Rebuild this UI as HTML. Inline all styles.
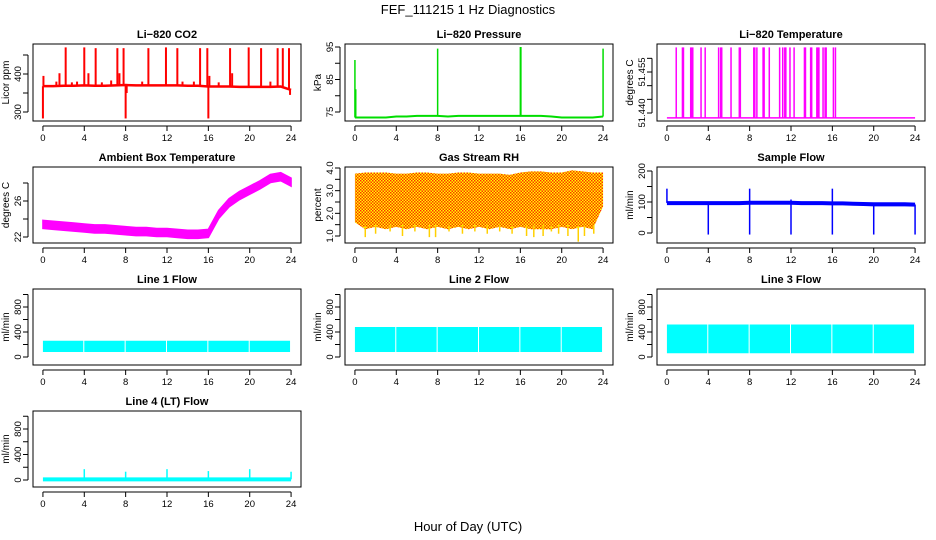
<!DOCTYPE html>
<html><head><meta charset="utf-8">
<style>
body{margin:0;background:#fff;}
svg{display:block;font-family:"Liberation Sans",Arial,sans-serif;}
.t{font-weight:bold;font-size:11px;text-anchor:middle;}
.tk{font-size:9.5px;text-anchor:middle;}
</style></head>
<body>
<svg id="c" width="936" height="540" viewBox="0 0 936 540">
<defs>
<pattern id="rh" width="3" height="3" patternUnits="userSpaceOnUse"><rect width="3" height="3" fill="#ffff00"/><rect width="1.5" height="1.5" fill="#ff3000"/><rect x="1.5" y="1.5" width="1.5" height="1.5" fill="#ff3000"/></pattern>
</defs>
<text x="468" y="14" font-size="13" text-anchor="middle">FEF_111215  1 Hz Diagnostics</text>
<text x="468" y="531" font-size="13" text-anchor="middle">Hour of Day (UTC)</text>
</svg>
<script>
const xTicks=[0,4,8,12,16,20,24];
const hours=[0,1,2,3,4,5,6,7,8,9,10,11,12,13,14,15,16,17,18,19,20,21,22,23,24];
// CO2
const co2Base=[368,368,369,369,370,369,369,370,371,370,370,370,370,370,369,369,367,367,367,366,366,366,366,367,358];
const co2Spikes=[[0,283],[0.05,395],[1.3,380],[1.6,402],[2.2,470],[2.8,378],[3.3,380],[4.0,470],[4.4,402],[5.1,468],[5.7,378],[6.6,383],[7.2,468],[7.4,402],[7.8,468],[8.0,283],[8.1,350],[9.6,380],[10.2,468],[11.9,470],[13.0,468],[13.5,380],[14.6,380],[15.2,468],[15.9,468],[16.0,283],[16.1,395],[17.0,378],[18.1,468],[18.3,402],[19.9,470],[21.1,468],[22.0,380],[22.7,468],[23.2,468],[23.8,468],[23.9,345]];
// pressure
const presBase=[73.3,73.3,73.3,73.3,73.6,73.6,73.8,73.8,73.8,73.6,73.8,73.8,73.8,73.8,73.8,73.8,73.8,73.8,73.8,73.6,73.3,73.3,73.3,73.3,73.6];
const presSpikes=[[0,91],[0.08,82],[8,94.5],[16,95],[16.05,95],[24,94.5]];
// Li-820 temperature
const ltBase=51.4382;
const ltSpikes=[0.9,1.5,1.6,2.3,2.4,2.5,3.3,3.7,5.0,5.2,5.3,6.2,7.0,7.1,8.4,8.5,8.7,9.3,9.4,9.9,10.9,11.2,11.4,11.5,11.9,12.3,13.3,13.4,13.9,14.0,14.5,14.6,14.7,15.1,15.3,15.4,16.1,16.3];
const ltTop=51.464;
// ambient temp
const ambMean=[23.4,23.3,23.2,23.1,23.0,22.9,22.9,22.8,22.7,22.6,22.6,22.5,22.5,22.4,22.3,22.3,22.4,24.5,25.8,26.6,27.2,27.8,28.5,28.7,28.1];
const ambHalf=0.45;
// RH
const rhHi=[3.75,3.8,3.8,3.8,3.75,3.75,3.8,3.8,3.75,3.75,3.8,3.8,3.75,3.75,3.75,3.7,3.8,3.85,3.85,3.8,3.8,3.9,3.85,3.8,3.8];
const rhLo=[1.6,1.3,1.4,1.3,1.4,1.3,1.4,1.3,1.4,1.3,1.4,1.3,1.4,1.3,1.4,1.3,1.4,1.3,1.3,1.3,1.4,1.3,1.4,1.3,2.3];
const rhDips=[1.0,2.0,3.4,4.6,5.8,7.2,7.8,9.1,10.4,11.6,12.8,14.0,15.2,16.6,17.3,18.2,19.0,19.7,20.6,21.6,22.2,23.1];
const rhDipVal=[0.95,1.1,1.2,1.0,1.2,0.95,0.95,1.2,1.1,1.2,1.1,1.2,1.1,1.0,0.95,1.0,1.2,1.1,1.0,0.75,1.0,1.1];
// sample flow
const sfBase=[97,97,97,97,97,97,97,97,98,98,98,98,98,97,97,97,96,96,95,94,93,93,93,93,92];
const sfSpikes=[[0,143],[4,-5],[8,-5],[8,143],[12,-5],[12,108],[16,-5],[16,143],[20,-5],[24,-5]];
// line flows
const l1Lo=80,l1Hi=260,l2Lo=80,l2Hi=480,l3Lo=60,l3Hi=520;
const lineGaps=[4,8,12,16,20];
const l4Base=10;
const l4Spikes=[[4,170],[8,130],[12,170],[16,140],[20,170],[24,130]];

const NS="http://www.w3.org/2000/svg";
const svg=document.getElementById('c');
function mk(tag,attrs,parent){const e=document.createElementNS(NS,tag);for(const k in attrs)e.setAttribute(k,attrs[k]);(parent||svg).appendChild(e);return e;}
const cols=[[33,301],[345,613],[657,925]];
const rows=[[44,121],[167,243],[289,365],[411,487]];
function panel(name,col,row,title,ylab,ymap,yt,ylabels){
  const g=mk('g',{});
  
  
  const [x0,x1]=cols[col],[y0,y1]=rows[row];
  const w=x1-x0;const sx=h=>x0+w*(0.04*24+h)/(24*1.08);
  const sy=v=>ymap[0]+(v-ymap[1])*(ymap[2]-ymap[0])/(ymap[3]-ymap[1]);
  const tt=mk('text',{x:(x0+x1)/2,y:y0-6,class:'t'},g);tt.textContent=title;
  
  
  const yl=mk('text',{x:0,y:0,transform:`translate(${x0-24},${(y0+y1)/2}) rotate(-90)`,'font-size':'10','text-anchor':'middle'},g);yl.textContent=ylab;
  
  
  const xa=mk('g',{},g);
  
  
  mk('line',{x1:sx(0),x2:sx(24),y1:y1+5,y2:y1+5,stroke:'#000'},xa);
  xTicks.forEach(t=>{mk('line',{x1:sx(t),x2:sx(t),y1:y1+5,y2:y1+10,stroke:'#000'},xa);
    const l=mk('text',{x:sx(t),y:y1+20,class:'tk'},xa);l.textContent=t;});
  const ya=mk('g',{},g);
  
  
  mk('line',{x1:x0-5,x2:x0-5,y1:sy(yt[0]),y2:sy(yt[yt.length-1]),stroke:'#000'},ya);
  yt.forEach(t=>mk('line',{x1:x0-10,x2:x0-5,y1:sy(t),y2:sy(t),stroke:'#000'},ya));
  ylabels.forEach(t=>{const l=mk('text',{x:0,y:0,transform:`translate(${x0-12},${sy(t[0])}) rotate(-90)`,class:'tk'},ya);l.textContent=t[1];});
  const marks=mk('g',{},g);
  
  
  mk('rect',{x:x0,y:y0,width:w,height:y1-y0,fill:'none',stroke:'#000'},g);
  return {sx,sy,g:marks};
}
function vline(p,h,a,b,col,sw){mk('line',{x1:p.sx(h),x2:p.sx(h),y1:p.sy(a),y2:p.sy(b),stroke:col,'stroke-width':sw||1.5},p.g);}
function baseLine(p,arr,col,sw){mk('polyline',{points:hours.map((h,i)=>p.sx(h)+','+p.sy(arr[i])).join(' '),fill:'none',stroke:col,'stroke-width':sw},p.g);}

// CO2
let p=panel('co2-panel',0,0,'Li\u2212820 CO2','Licor ppm',[112,300,74,400],[300,350,400,450],[[300,'300'],[400,'400']]);
baseLine(p,co2Base,'#ff0000',2.5);
co2Spikes.forEach(s=>{const i=Math.round(s[0]);vline(p,s[0],co2Base[i],s[1],'#ff0000',2);});
// pressure
p=panel('pressure-panel',1,0,'Li\u2212820 Pressure','kPa',[112,75,47,95],[75,80,85,90,95],[[75,'75'],[85,'85'],[95,'95']]);
baseLine(p,presBase,'#00dd00',2);
presSpikes.forEach(s=>{const i=Math.round(s[0]);vline(p,s[0],presBase[i],s[1],'#00dd00',1.5);});
// li temp
p=panel('li820-temp-panel',2,0,'Li\u2212820 Temperature','degrees C',[113,51.440,72,51.455],[51.440,51.445,51.450,51.455,51.460],[[51.440,'51.440'],[51.455,'51.455']]);
mk('line',{x1:p.sx(0),x2:p.sx(24),y1:p.sy(ltBase),y2:p.sy(ltBase),stroke:'#ff00ff','stroke-width':1.5},p.g);
ltSpikes.forEach(h=>vline(p,h,ltBase,ltTop,'#ff00ff',1.5));
// ambient
p=panel('ambient-temp-panel',0,1,'Ambient Box Temperature','degrees C',[237,22,201,26],[22,24,26,28],[[22,'22'],[26,'26']]);
mk('polygon',{points:hours.map((h,i)=>p.sx(h)+','+p.sy(ambMean[i]+ambHalf)).concat(hours.slice().reverse().map((h,j)=>{const i=hours.length-1-j;return p.sx(h)+','+p.sy(ambMean[i]-ambHalf);})).join(' '),fill:'#ff00ff',stroke:'#ff00ff','stroke-width':1.5},p.g);
// RH
p=panel('gas-rh-panel',1,1,'Gas Stream RH','percent',[236,1.0,168,4.0],[1.0,1.5,2.0,2.5,3.0,3.5,4.0],[[1.0,'1.0'],[2.0,'2.0'],[3.0,'3.0'],[4.0,'4.0']]);
mk('polygon',{points:hours.map((h,i)=>p.sx(h)+','+p.sy(rhHi[i])).concat(hours.slice().reverse().map((h,j)=>{const i=hours.length-1-j;return p.sx(h)+','+p.sy(rhLo[i]);})).join(' '),fill:'url(#rh)'},p.g);
rhDips.forEach((h,i)=>vline(p,h,1.5,rhDipVal[i],'#ffd000',1.5));
// sample flow
p=panel('sample-flow-panel',2,1,'Sample Flow','ml/min',[233,0,171,200],[0,50,100,150,200],[[0,'0'],[100,'100'],[200,'200']]);
mk('polygon',{points:hours.map((h,i)=>p.sx(h)+','+p.sy(sfBase[i]+6)).concat(hours.slice().reverse().map((h,j)=>{const i=hours.length-1-j;return p.sx(h)+','+p.sy(sfBase[i]-7);})).join(' '),fill:'#0000ff'},p.g);
sfSpikes.forEach(s=>{const i=Math.round(s[0]);vline(p,s[0],sfBase[i],s[1],'#0000ff',1.5);});
// line flows
function flowPanel(name,col,row,title,lo,hi){
  const q=panel(name,col,row,title,'ml/min',row===3?[480,0,429,800]:[357,0,307,800],[0,200,400,600,800,1000],[[0,'0'],[400,'400'],[800,'800']]);
  if(lo!==null){
    mk('rect',{x:q.sx(0),y:q.sy(hi),width:q.sx(23.9)-q.sx(0),height:q.sy(lo)-q.sy(hi),fill:'#00ffff'},q.g);
    lineGaps.forEach(h=>mk('rect',{x:q.sx(h)-1,y:q.sy(hi)-1,width:1,height:q.sy(lo)-q.sy(hi)+2,fill:'#fff'},q.g));
  }
  return q;
}
flowPanel('line1-flow-panel',0,2,'Line 1 Flow',l1Lo,l1Hi);
flowPanel('line2-flow-panel',1,2,'Line 2 Flow',l2Lo,l2Hi);
flowPanel('line3-flow-panel',2,2,'Line 3 Flow',l3Lo,l3Hi);
p=flowPanel('line4-flow-panel',0,3,'Line 4 (LT) Flow',null,null);
mk('line',{x1:p.sx(0),x2:p.sx(24),y1:p.sy(l4Base),y2:p.sy(l4Base),stroke:'#00ffff','stroke-width':4},p.g);
l4Spikes.forEach(s=>vline(p,s[0],l4Base,s[1],'#00ffff',1.5));
</script>
</body></html>
